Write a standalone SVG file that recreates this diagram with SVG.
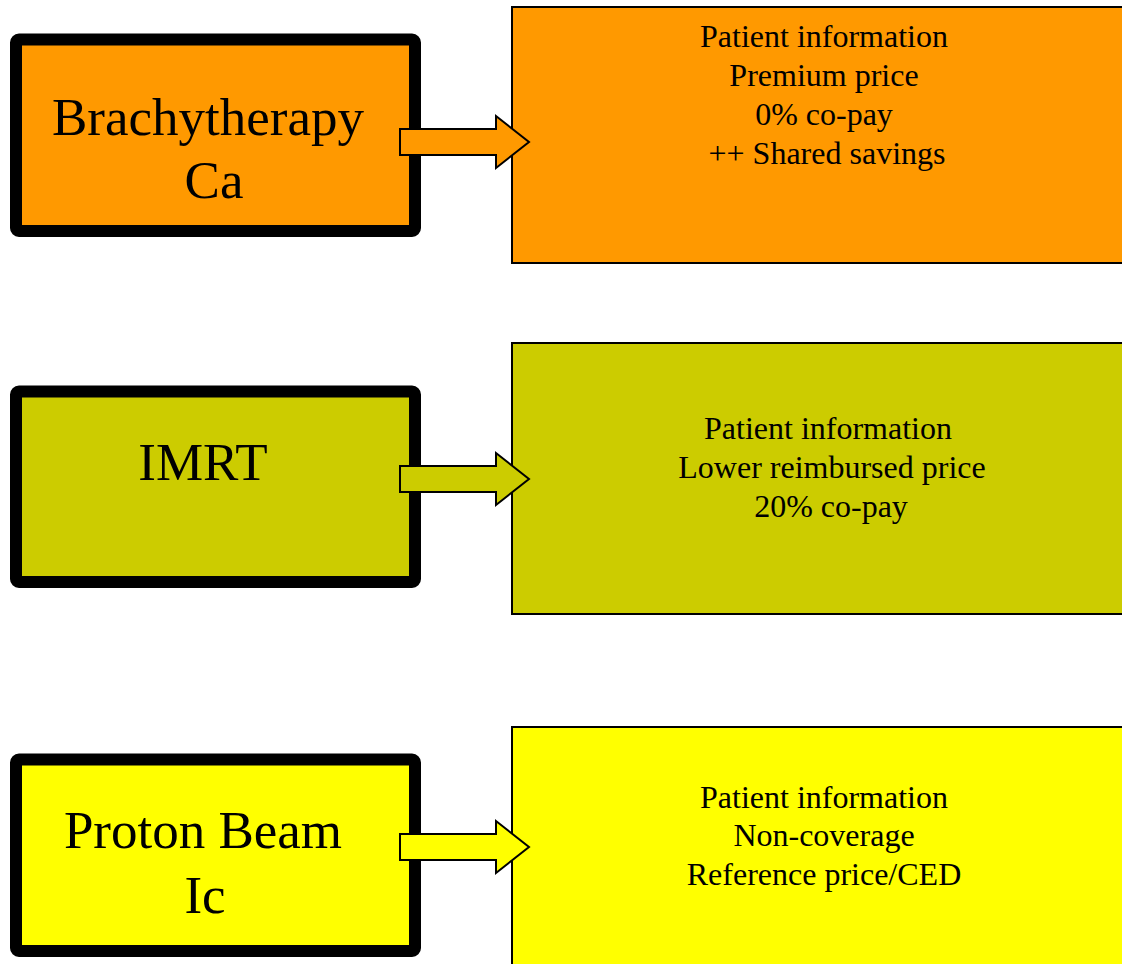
<svg xmlns="http://www.w3.org/2000/svg" width="1122" height="964" viewBox="0 0 1122 964">
<style>
.lbox{stroke:#000;stroke-width:12;stroke-linejoin:round}
.rbox{stroke:#000;stroke-width:2}
.arrow{stroke:#000;stroke-width:2;stroke-linejoin:miter}
.big{font-family:"Liberation Serif","Times New Roman",serif;font-size:53px;fill:#000;text-anchor:middle}
.small{font-family:"Liberation Serif","Times New Roman",serif;font-size:32px;fill:#000;text-anchor:middle}
</style>
<rect width="1122" height="964" fill="#fff"/>
<g id="node-brachy">
<rect class="lbox" x="16" y="39.5" width="399" height="191.5" rx="3" fill="#FF9900"/>
<text class="big" x="208" y="135">Brachytherapy</text>
<text class="big" x="214" y="198">Ca</text>
</g>
<g id="node-brachy-info">
<rect class="rbox" x="512" y="7" width="620" height="256" fill="#FF9900"/>
<text class="small" x="824" y="47">Patient information</text>
<text class="small" x="824" y="86">Premium price</text>
<text class="small" x="824" y="125">0% co-pay</text>
<text class="small" x="827" y="164">++ Shared savings</text>
</g>
<g id="node-imrt">
<rect class="lbox" x="16" y="391.5" width="399" height="190.5" rx="3" fill="#CCCC00"/>
<text class="big" x="203" y="480">IMRT</text>
</g>
<g id="node-imrt-info">
<rect class="rbox" x="512" y="343" width="620" height="271" fill="#CCCC00"/>
<text class="small" x="828" y="439">Patient information</text>
<text class="small" x="832" y="478">Lower reimbursed price</text>
<text class="small" x="831" y="517">20% co-pay</text>
</g>
<g id="node-proton">
<rect class="lbox" x="16" y="759.5" width="399" height="191.5" rx="3" fill="#FFFF00"/>
<text class="big" x="203" y="848">Proton Beam</text>
<text class="big" x="205" y="913">Ic</text>
</g>
<g id="node-proton-info">
<rect class="rbox" x="512" y="727" width="620" height="250" fill="#FFFF00"/>
<text class="small" x="824" y="808">Patient information</text>
<text class="small" x="824" y="846">Non-coverage</text>
<text class="small" x="824" y="885">Reference price/CED</text>
</g>
<g id="connectors">
<polygon class="arrow" fill="#FF9900" points="400,129 496,129 496,116 529,142 496,168 496,155 400,155"/>
<polygon class="arrow" fill="#CCCC00" points="400,466 496,466 496,453 529,479 496,505 496,492 400,492"/>
<polygon class="arrow" fill="#FFFF00" points="400,834 496,834 496,821 529,847 496,873 496,860 400,860"/>
</g>
</svg>
